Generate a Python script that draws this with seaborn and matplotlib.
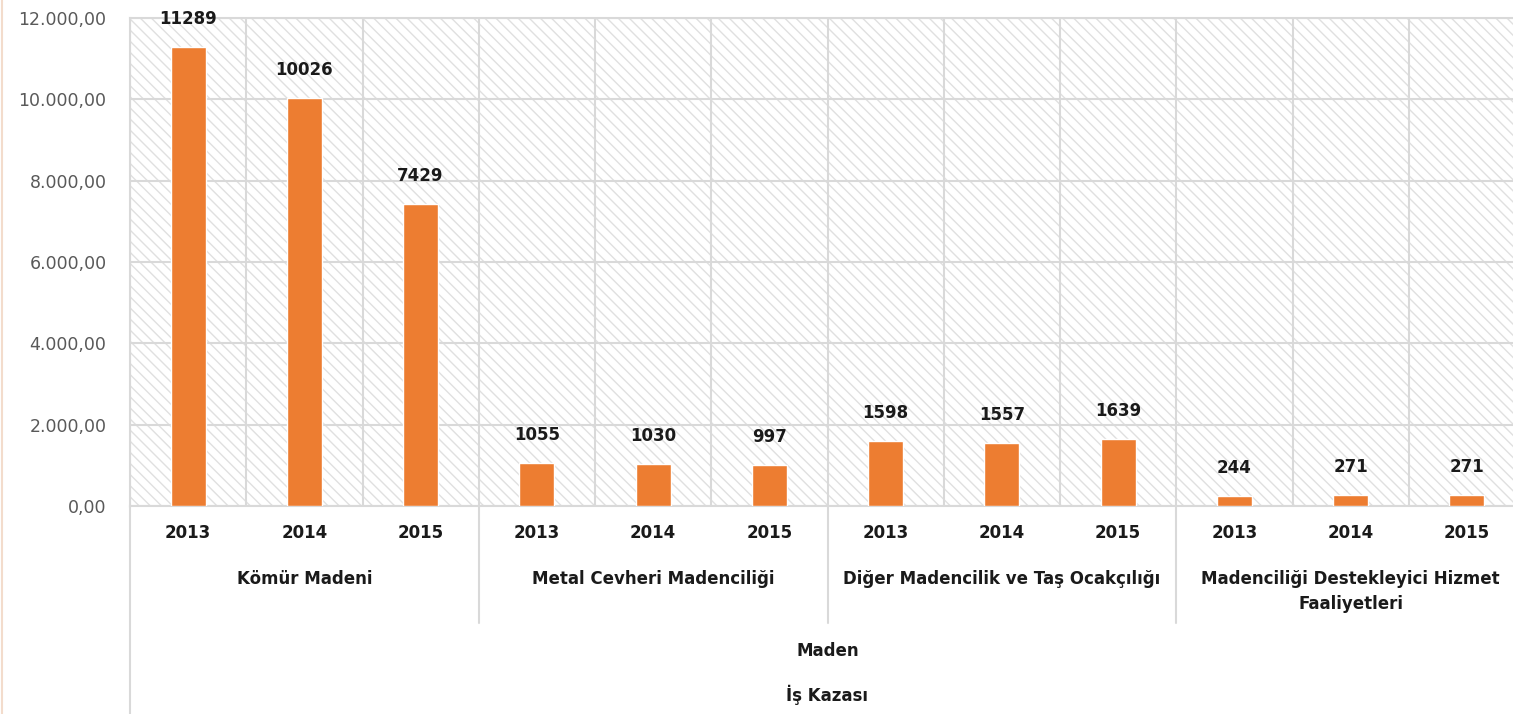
import matplotlib
matplotlib.use('Agg')
import matplotlib.pyplot as plt
import seaborn as sns
import pandas as pd
from matplotlib.ticker import FuncFormatter, FixedLocator
from matplotlib.lines import Line2D

# veriler
gruplar = ['Kömür Madeni', 'Metal Cevheri Madenciliği',
           'Diğer Madencilik ve Taş Ocakçılığı',
           'Madenciliği Destekleyici Hizmet\nFaaliyetleri']
yillar = ['2013', '2014', '2015']
kaza_sayilari = [11289, 10026, 7429,
                 1055, 1030, 997,
                 1598, 1557, 1639,
                 244, 271, 271]
ust_etiket1 = 'Maden'
ust_etiket2 = 'İş Kazası'

rows = []
i = 0
for g in gruplar:
    for y in yillar:
        rows.append({'grup': g, 'yil': y, 'anahtar': g + '|' + y, 'deger': kaza_sayilari[i]})
        i += 1
df = pd.DataFrame(rows)

sns.set_style('white')
plt.rcParams['font.family'] = ['DejaVu Sans']
plt.rcParams['hatch.linewidth'] = 1.0

W, H = 1513, 714
fig = plt.figure(figsize=(W / 100, H / 100), dpi=100)
ax = fig.add_axes([130 / W, 208 / H, 1395 / W, 488 / H])
ax.patch.set_hatch('\\\\\\')
ax.patch.set_edgecolor('#e0e0e0')
ax.patch.set_linewidth(0)

g = sns.barplot(data=df, x='anahtar', y='deger', order=list(df['anahtar']),
                color='#ED7D31', saturation=1, width=0.3, ax=ax, zorder=3)

ax.set_xlim(-0.5, len(df) - 0.5)
ax.set_ylim(0, 12000)
ax.set_yticks(range(0, 12001, 2000))
ax.yaxis.set_major_formatter(FuncFormatter(
    lambda v, p: '{:,.2f}'.format(v).replace(',', 'X').replace('.', ',').replace('X', '.')))
ax.tick_params(axis='y', length=0, pad=17, labelsize=12.5, labelcolor='#595959')

ax.set_xticks(range(len(df)))
ax.set_xticklabels(df['yil'], fontweight='bold', fontsize=12, color='#1a1a1a')
ax.tick_params(axis='x', length=0, pad=13)
ax.xaxis.set_minor_locator(FixedLocator([k - 0.5 for k in range(len(df) + 1)]))

ax.set_axisbelow(True)
ax.grid(axis='y', color='#d9d9d9', lw=1.5)
ax.grid(axis='x', which='minor', color='#d9d9d9', lw=1.5)
ax.grid(axis='x', which='major', visible=False)
ax.set_xlabel('')
ax.set_ylabel('')

for s in ['left', 'bottom', 'top']:
    ax.spines[s].set_color('#d9d9d9')
    ax.spines[s].set_linewidth(1.5)
ax.spines['right'].set_visible(False)

# bar etiketleri
for k, v in enumerate(df['deger']):
    ax.annotate(str(v), xy=(k, v), xytext=(0, 28), textcoords='offset pixels',
                ha='center', va='center', fontsize=12, fontweight='bold',
                color='#1a1a1a', annotation_clip=False)

# grup etiketleri ve ayirici cizgiler
xf = ax.get_xaxis_transform()
for j, grp in enumerate(gruplar):
    cx = j * len(yillar) + (len(yillar) - 1) / 2
    ax.annotate(grp, xy=(cx, 0), xycoords=xf, xytext=(0, -64), textcoords='offset pixels',
                ha='center', va='top', fontsize=12, fontweight='bold', color='#1a1a1a',
                linespacing=1.5, annotation_clip=False)
    if j > 0:
        bx = j * len(yillar) - 0.5
        ax.plot([bx, bx], [0, -117 / 488], transform=xf, color='#d9d9d9', lw=1.5, clip_on=False)

ax.plot([-0.5, -0.5], [0, -208 / 488], transform=xf, color='#d9d9d9', lw=1.5, clip_on=False)

mid = (len(df) - 1) / 2
ax.annotate(ust_etiket1, xy=(mid, 0), xycoords=xf, xytext=(0, -145), textcoords='offset pixels',
            ha='center', va='center', fontsize=12, fontweight='bold', color='#1a1a1a',
            annotation_clip=False)
ax.annotate(ust_etiket2, xy=(mid, 0), xycoords=xf, xytext=(0, -189), textcoords='offset pixels',
            ha='center', va='center', fontsize=12, fontweight='bold', color='#1a1a1a',
            annotation_clip=False)

fig.add_artist(Line2D([1.5 / W, 1.5 / W], [0, 1], color='#f3dccc', lw=1.5))

fig.savefig('out.png', dpi=100)
